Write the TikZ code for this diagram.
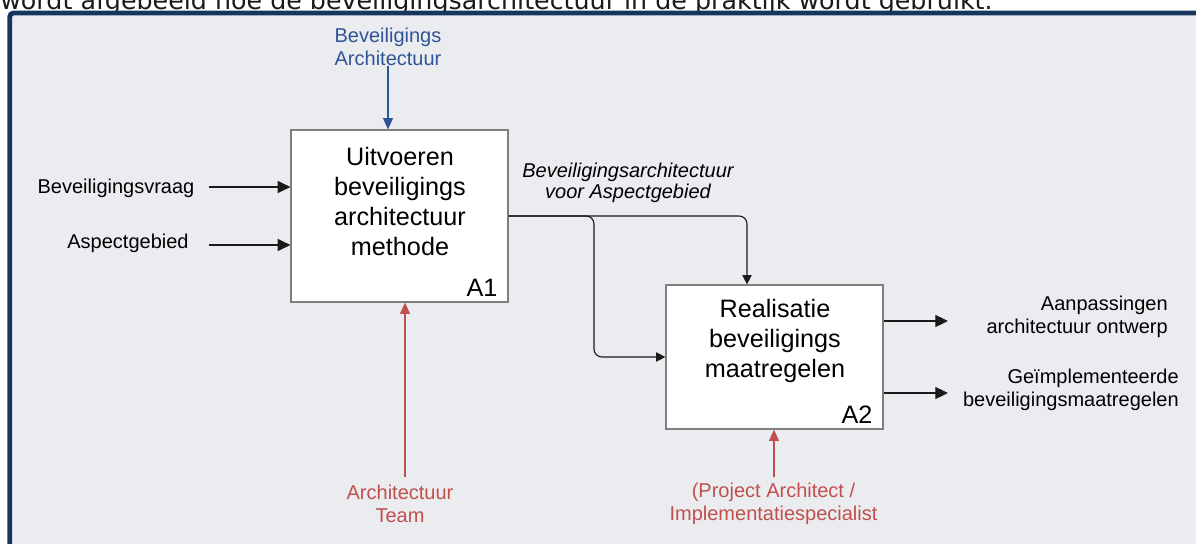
\documentclass[tikz,border=0pt]{standalone}
\usepackage{fontspec}
\setmainfont{Liberation Sans}
\newfontfamily\bodyfont{DejaVu Sans}
\usetikzlibrary{arrows.meta,calc}
\definecolor{framenavy}{HTML}{17365D}
\definecolor{panelbg}{HTML}{EBECF0}
\definecolor{ctrlblue}{HTML}{2F5496}
\definecolor{mechred}{HTML}{C0504D}
\definecolor{boxgray}{HTML}{7F7F7F}
\definecolor{ink}{HTML}{1A1A1A}

\begin{document}
\begin{tikzpicture}[x=0.75pt,y=-0.75pt,
  procbox/.style={draw=boxgray, line width=0.9pt, fill=white,
    minimum width=217*0.75pt, inner sep=0pt},
  boxtext/.style={align=center, inner sep=0pt,
    font=\fontsize{18.9}{22.5}\selectfont},
  boxid/.style={inner sep=0pt, font=\fontsize{18.9}{22.5}\selectfont},
  lbl/.style={align=center, inner sep=0pt,
    font=\fontsize{15}{17.25}\selectfont},
  flow/.style={draw=ink, line width=0.85pt,
    -{Triangle[length=9.5pt,width=9pt]}},
  flowsm/.style={draw=ink, line width=0.85pt,
    -{Triangle[length=7pt,width=7pt]}, rounded corners=6pt},
  flowctl/.style={line width=0.85pt,
    -{Triangle[length=8.5pt,width=7.5pt]}}
]
\useasboundingbox (0,0) rectangle (1196,543);
\clip (0,0) rectangle (1196,543);

% running text above the figure frame
\node[anchor=base west, inner sep=0pt, text=ink,
  font=\bodyfont\fontsize{19}{21}\selectfont] (intro) at (0,9.5)
  {wordt afgebeeld hoe de beveiligingsarchitectuur in de praktijk wordt gebruikt.};

% figure frame
\draw[draw=framenavy, line width=3.6pt, fill=panelbg, rounded corners=3pt]
  (9.7,12.9) rectangle (1215,570);

% activity boxes
\node[procbox, minimum height=172*0.75pt] (A1) at (399.5,216) {};
\node[boxtext] (A1t) at (400,201) {Uitvoeren\\beveiligings\\architectuur\\methode};
\node[boxid] (A1id) at (482,288) {A1};

\node[procbox, minimum height=144*0.75pt] (A2) at (774.5,357) {};
\node[boxtext] (A2t) at (775,341) {Realisatie\\beveiligings\\maatregelen};
\node[boxid] (A2id) at (857,415) {A2};

% inputs
\node[lbl] (vraag) at (116,188) {Beveiligingsvraag};
\node[lbl] (aspect) at (128,243) {Aspectgebied};
\coordinate (vraagS) at (209,187);
\coordinate (aspectS) at (209,245);
\draw[flow] (vraagS) -- (vraagS -| A1.west);
\draw[flow] (aspectS) -- (aspectS -| A1.west);

% control
\node[lbl, text=ctrlblue] (ctl) at (388,46.5) {Beveiligings\\Architectuur};
\draw[flowctl, draw=ctrlblue, fill=ctrlblue] (ctl.south) -- (ctl.south |- A1.north);

% output of A1 feeding A2
\node[lbl, font=\fontsize{15}{15.75}\selectfont\itshape] (archout) at (628,182.5)
  {Beveiligingsarchitectuur\\voor Aspectgebied};
\coordinate (split) at (594,216);
\draw[flowsm] (A1.east) -| ($(A2.north)+(-27.5,0)$);
\draw[flowsm] (A1.east) -| (split |- A2.west) -- (A2.west);

% mechanisms
\node[lbl, text=mechred] (team) at (400,503.5) {Architectuur\\Team};
\node[lbl, text=mechred] (spec) at (773.5,503.5) {(Project Architect /\\Implementatiespecialist};
\coordinate (teamS) at (405,477);
\coordinate (specS) at (774,477);
\draw[flowctl, draw=mechred, fill=mechred] (teamS) -- (teamS |- A1.south);
\draw[flowctl, draw=mechred, fill=mechred] (specS) -- (specS |- A2.south);

% outputs of A2
\coordinate (out1E) at (948,321);
\coordinate (out2E) at (948,393);
\draw[flow] (out1E -| A2.east) -- (out1E);
\draw[flow] (out2E -| A2.east) -- (out2E);
\node[lbl, align=right, anchor=east] (out1) at (1168,316.5)
  {Aanpassingen\\architectuur ontwerp};
\node[lbl, align=right, anchor=east] (out2) at (1179,390)
  {Geïmplementeerde\\beveiligingsmaatregelen};
\end{tikzpicture}
\end{document}
